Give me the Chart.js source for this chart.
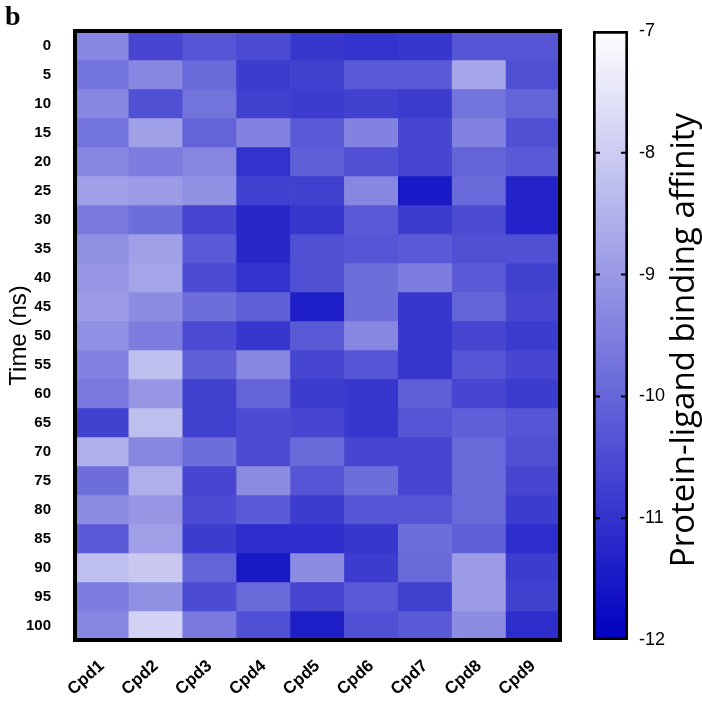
<!DOCTYPE html>
<html>
<head>
<meta charset="utf-8">
<script src="https://cdn.jsdelivr.net/npm/chart.js@4.4.0/dist/chart.umd.min.js"></script>
<style>
  body { margin: 0; background: #fff; }
  #wrap { position: relative; width: 702px; height: 704px; }
  #heat { position: absolute; left: 0; top: 0; }
  #bar { position: absolute; left: 580px; top: 0; }
  #panel { position: absolute; left: 5px; top: 0px; font: bold 28px "Liberation Serif", serif; }
</style>
</head>
<body>
<div id="wrap">
  <canvas id="heat" width="580" height="704"></canvas>
  <canvas id="bar" width="122" height="704"></canvas>
  <div id="panel">b</div>
</div>
<script>
const compounds = ['Cpd1', 'Cpd2', 'Cpd3', 'Cpd4', 'Cpd5', 'Cpd6', 'Cpd7', 'Cpd8', 'Cpd9'];
const times = ['0', '5', '10', '15', '20', '25', '30', '35', '40', '45', '50',
               '55', '60', '65', '70', '75', '80', '85', '90', '95', '100'];

// binding affinity per compound, one value per time point (0..100 ns)
const cpd1 = [-9.35, -9.75, -9.35, -9.75, -9.35, -8.86, -9.65, -9.16, -9.06, -8.96, -9.16, -9.45, -9.65, -10.73, -8.57, -9.84, -9.25, -10.24, -8.27, -9.55, -9.35];
const cpd2 = [-10.63, -9.35, -10.43, -8.86, -9.55, -8.96, -9.84, -8.86, -8.76, -9.25, -9.55, -8.27, -9.06, -8.27, -9.35, -8.57, -9.06, -8.86, -8.08, -9.16, -7.88];
const cpd3 = [-10.33, -9.94, -9.75, -10.04, -9.35, -9.16, -10.63, -10.24, -10.53, -9.84, -10.53, -10.14, -10.73, -10.73, -9.84, -10.63, -10.53, -10.82, -10.04, -10.53, -9.65];
const cpd4 = [-10.53, -10.82, -10.73, -9.45, -11.02, -10.73, -11.22, -11.22, -11.02, -10.14, -10.92, -9.35, -10.04, -10.53, -10.53, -9.25, -10.24, -11.12, -11.51, -9.94, -10.43];
const cpd5 = [-10.92, -10.73, -10.82, -10.24, -10.14, -10.73, -10.92, -10.43, -10.43, -11.41, -10.24, -10.63, -10.82, -10.63, -9.94, -10.33, -10.82, -11.12, -9.25, -10.63, -11.41];
const cpd6 = [-11.02, -10.24, -10.73, -9.45, -10.43, -9.35, -10.24, -10.33, -9.84, -9.84, -9.35, -10.33, -10.92, -10.92, -10.63, -9.84, -10.33, -10.92, -10.82, -10.24, -10.43];
const cpd7 = [-10.92, -10.24, -10.82, -10.63, -10.63, -11.51, -10.82, -10.24, -9.55, -10.92, -10.92, -10.92, -10.14, -10.33, -10.63, -10.63, -10.33, -9.84, -9.94, -10.73, -10.24];
const cpd8 = [-10.33, -8.76, -9.75, -9.45, -10.04, -9.94, -10.53, -10.43, -10.24, -10.04, -10.63, -10.33, -10.63, -10.14, -9.94, -9.94, -9.94, -10.14, -8.96, -8.96, -9.25];
const cpd9 = [-10.33, -10.43, -10.04, -10.43, -10.24, -11.31, -11.31, -10.43, -10.73, -10.63, -10.82, -10.63, -10.82, -10.33, -10.43, -10.63, -10.82, -11.12, -10.82, -10.73, -11.12];
const columns = [cpd1, cpd2, cpd3, cpd4, cpd5, cpd6, cpd7, cpd8, cpd9];

const scaleMin = -12;
const scaleMax = -7;
const colorTicks = [-12, -11, -10, -9, -8, -7];

// white at -7 down to dark blue at -12
function colour(v) {
    let t = (v - scaleMin) / (scaleMax - scaleMin);
    t = Math.max(0, Math.min(1, t));
    const rg = Math.round(255 * t);
    const b = Math.round(192 + 63 * t);
    return `rgb(${rg},${rg},${b})`;
}

const frame = {
    id: 'frame',
    afterDatasetsDraw(chart) {
        const { ctx, chartArea: a } = chart;
        ctx.save();
        ctx.strokeStyle = '#000';
        ctx.lineWidth = 4;
        ctx.strokeRect(a.left, a.top, a.right - a.left, a.bottom - a.top);
        ctx.restore();
    }
};

// one stacked dataset per time row, coloured by each compound's value
const heatSets = times.map((t, i) => ({
    label: t + ' ns',
    data: compounds.map(() => 1),
    backgroundColor: columns.map(col => colour(col[i])),
    borderWidth: 0,
    barPercentage: 1,
    categoryPercentage: 1
}));

new Chart(document.getElementById('heat'), {
    type: 'bar',
    data: { labels: compounds, datasets: heatSets },
    options: {
        responsive: false,
        animation: false,
        layout: { padding: { top: 31, right: 20, left: 0, bottom: 0 } },
        plugins: { legend: { display: false }, tooltip: { enabled: false } },
        scales: {
            x: {
                stacked: true,
                grid: { display: false },
                border: { display: false },
                ticks: {
                    color: '#000',
                    font: { family: 'Liberation Sans', size: 17, weight: 'bold' },
                    minRotation: 42,
                    maxRotation: 42,
                    padding: 8,
                    autoSkip: false
                },
                afterFit(scale) { scale.height = 64; }
            },
            y: {
                stacked: true,
                reverse: true,
                min: 0,
                max: times.length,
                grid: { display: false },
                border: { display: false },
                afterBuildTicks(axis) {
                    axis.ticks = times.map((t, i) => ({ value: i + 0.5 }));
                },
                ticks: {
                    color: '#000',
                    autoSkip: false,
                    padding: 16,
                    font: { family: 'Liberation Sans', size: 15, weight: 'bold' },
                    callback: (v, i) => times[i]
                },
                title: {
                    display: true,
                    text: 'Time (ns)',
                    color: '#000',
                    font: { family: 'Liberation Sans', size: 24 },
                    padding: { top: 5, bottom: 0 }
                },
                afterFit(scale) { scale.width = 75; }
            }
        }
    },
    plugins: [frame]
});

const barDecor = {
    id: 'barDecor',
    afterDraw(chart) {
        const { ctx, chartArea: a, scales } = chart;
        ctx.save();
        ctx.strokeStyle = '#000';
        ctx.lineWidth = 2;
        scales.y.ticks.forEach(tk => {
            if (tk.value === scaleMin || tk.value === scaleMax) return;
            const y = scales.y.getPixelForValue(tk.value);
            ctx.beginPath();
            ctx.moveTo(a.left, y);
            ctx.lineTo(a.left + 7, y);
            ctx.moveTo(a.right, y);
            ctx.lineTo(a.right - 7, y);
            ctx.stroke();
        });
        ctx.fillStyle = '#000';
        ctx.font = '33px "Open Sans"';
        ctx.textAlign = 'center';
        ctx.textBaseline = 'middle';
        ctx.translate(105, 340);
        ctx.rotate(-Math.PI / 2);
        ctx.fillText('Protein-ligand binding affinity', 0, 0);
        ctx.restore();
    }
};

new Chart(document.getElementById('bar'), {
    type: 'bar',
    data: {
        labels: [''],
        datasets: [{
            data: [[scaleMin, scaleMax]],
            backgroundColor(context) {
                const chart = context.chart;
                const y = chart.scales.y;
                if (!chart.chartArea || !y) return '#fff';
                const g = chart.ctx.createLinearGradient(0, y.getPixelForValue(scaleMin), 0, y.getPixelForValue(scaleMax));
                g.addColorStop(0, colour(scaleMin));
                g.addColorStop(1, colour(scaleMax));
                return g;
            },
            borderColor: '#000',
            borderWidth: 3,
            borderSkipped: false,
            barPercentage: 1,
            categoryPercentage: 1
        }]
    },
    options: {
        responsive: false,
        animation: false,
        layout: { padding: { top: 31, left: 13, right: 0, bottom: 64 } },
        plugins: { legend: { display: false }, tooltip: { enabled: false } },
        scales: {
            x: { display: false },
            y: {
                position: 'right',
                min: scaleMin,
                max: scaleMax,
                afterBuildTicks(axis) {
                    axis.ticks = colorTicks.map(v => ({ value: v }));
                },
                grid: { drawOnChartArea: false, drawTicks: false },
                border: { display: false },
                ticks: {
                    color: '#000',
                    padding: 11,
                    font: { family: 'Liberation Sans', size: 18 }
                },
                afterFit(scale) { scale.width = 74; }
            }
        }
    },
    plugins: [barDecor]
});
</script>
</body>
</html>
